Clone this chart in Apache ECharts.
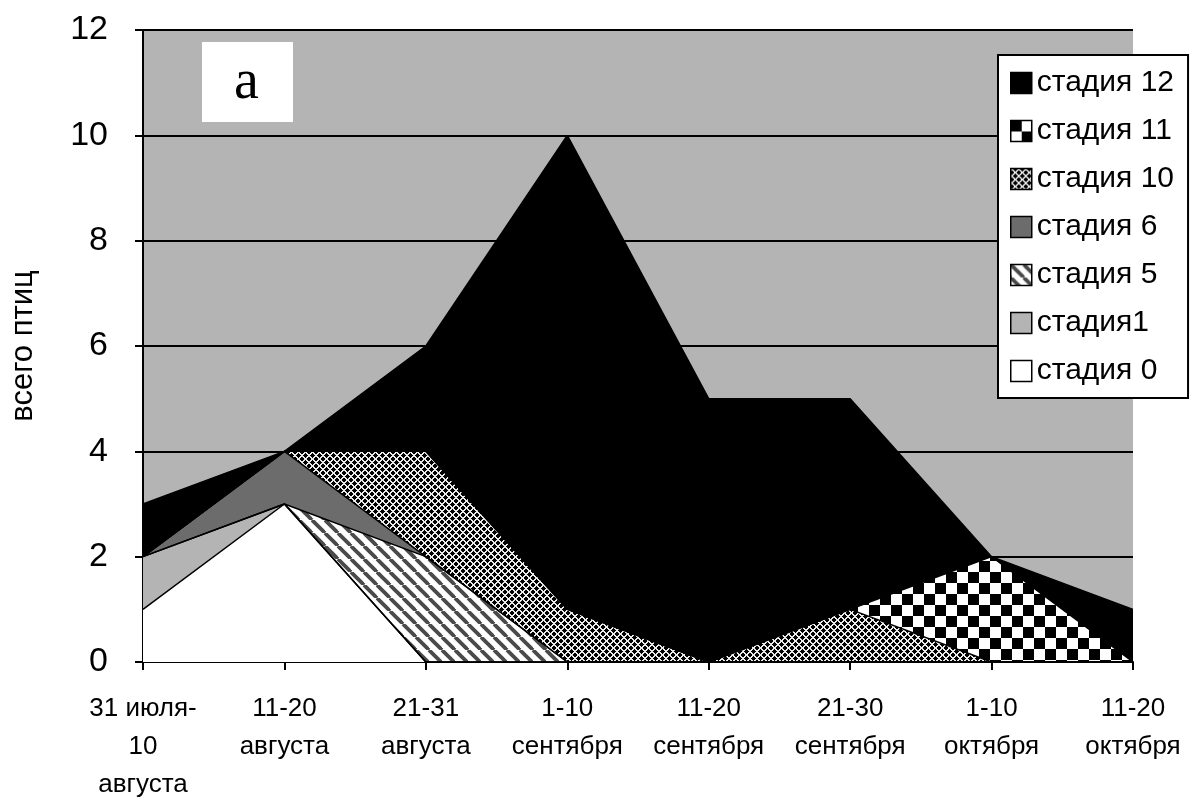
<!DOCTYPE html>
<html><head><meta charset="utf-8">
<script src="https://cdn.jsdelivr.net/npm/echarts@6/dist/echarts.min.js"></script>
<style>html,body{margin:0;padding:0;background:#fff}#c{width:1200px;height:800px}</style>
</head><body><div id="c"></div>
<script>
const categories = ['31 июля-\n10\nавгуста', '11-20\nавгуста', '21-31\nавгуста', '1-10\nсентября', '11-20\nсентября', '21-30\nсентября', '1-10\nоктября', '11-20\nоктября'];
const stage0  = [1, 3, 0, 0, 0, 0, 0, 0];
const stage1  = [1, 0, 0, 0, 0, 0, 0, 0];
const stage5  = [0, 0, 2, 0, 0, 0, 0, 0];
const stage6  = [0, 1, 0, 0, 0, 0, 0, 0];
const stage10 = [0, 0, 2, 1, 0, 1, 0, 0];
const stage11 = [0, 0, 0, 0, 0, 0, 2, 0];
const stage12 = [1, 0, 2, 9, 5, 4, 0, 1];
const seriesNames = ['стадия 0', 'стадия1', 'стадия 5', 'стадия 6', 'стадия 10', 'стадия 11', 'стадия 12'];
const legendOrder = ['стадия 12', 'стадия 11', 'стадия 10', 'стадия 6', 'стадия 5', 'стадия1', 'стадия 0'];
const yTicks = [0, 2, 4, 6, 8, 10, 12];

function makeCanvas(w, h, draw) {
  const c = document.createElement('canvas');
  c.width = w; c.height = h;
  draw(c.getContext('2d'), w, h);
  return c;
}
const stripeCanvas = makeCanvas(13, 13, (ctx) => {
  ctx.fillStyle = '#fff'; ctx.fillRect(0, 0, 13, 13);
  ctx.strokeStyle = '#4a4a4a'; ctx.lineWidth = 3.8;
  for (const o of [-13, 0, 13]) { ctx.beginPath(); ctx.moveTo(o, 0); ctx.lineTo(o + 13, 13); ctx.stroke(); }
});
const P = 7;
const crossCanvas = makeCanvas(P, P, (ctx) => {
  const img = ctx.createImageData(P, P);
  for (let y = 0; y < P; y++) for (let x = 0; x < P; x++) {
    const white = ((x + y) % P < 2) || ((((x - y) % P) + P) % P < 2);
    const v = white ? 235 : 0, i = (y * P + x) * 4;
    img.data[i] = v; img.data[i + 1] = v; img.data[i + 2] = v; img.data[i + 3] = 255;
  }
  ctx.putImageData(img, 0, 0);
});
const checkCanvas = makeCanvas(22, 22, (ctx) => {
  ctx.fillStyle = '#fff'; ctx.fillRect(0, 0, 22, 22);
  ctx.fillStyle = '#000'; ctx.fillRect(0, 0, 11, 11); ctx.fillRect(11, 11, 11, 11);
});

const fills = {
  'стадия 0': '#ffffff',
  'стадия1': '#b4b4b4',
  'стадия 5': { image: stripeCanvas, repeat: 'repeat' },
  'стадия 6': '#6c6c6c',
  'стадия 10': { image: crossCanvas, repeat: 'repeat' },
  'стадия 11': { image: checkCanvas, repeat: 'repeat' },
  'стадия 12': '#000000'
};
const dataByName = {
  'стадия 0': stage0, 'стадия1': stage1, 'стадия 5': stage5, 'стадия 6': stage6,
  'стадия 10': stage10, 'стадия 11': stage11, 'стадия 12': stage12
};

const chart = echarts.init(document.getElementById('c'), null, { renderer: 'canvas' });
chart.setOption({
  animation: false,
  backgroundColor: '#fff',
  grid: { left: 143, right: 67, top: 30, bottom: 138, show: true, backgroundColor: '#b4b4b4', borderWidth: 0, outerBoundsMode: 'none', containLabel: false },
  xAxis: {
    type: 'category', data: categories, boundaryGap: false,
    axisLine: { lineStyle: { color: '#000', width: 2 } },
    axisTick: { show: true, length: 8, lineStyle: { color: '#000', width: 2 } },
    axisLabel: { color: '#000', fontFamily: 'Liberation Sans', fontSize: 26, lineHeight: 38, margin: 28, interval: 0 },
    splitLine: { show: false }
  },
  yAxis: {
    type: 'value', min: yTicks[0], max: yTicks[yTicks.length - 1], interval: 2,
    name: 'всего птиц', nameLocation: 'middle', nameGap: 104, nameRotate: 90,
    nameTextStyle: { color: '#000', fontFamily: 'Liberation Sans', fontSize: 31 },
    axisLine: { show: true, lineStyle: { color: '#000', width: 2 } },
    axisTick: { show: true, length: 8, lineStyle: { color: '#000', width: 2 } },
    axisLabel: { color: '#000', fontFamily: 'Liberation Sans', fontSize: 34, margin: 35 },
    splitLine: { show: true, lineStyle: { color: '#000', width: 2 } }
  },
  legend: {
    orient: 'vertical', left: 998, top: 55,
    data: legendOrder.map(n => ({ name: n, icon: 'rect', itemStyle: { color: fills[n], borderColor: '#000', borderWidth: 1.5 } })),
    itemWidth: 21, itemHeight: 21, itemGap: 18,
    padding: [13, 14, 12, 12],
    backgroundColor: '#fff', borderColor: '#000', borderWidth: 2,
    textStyle: { color: '#000', fontFamily: 'Liberation Sans', fontSize: 30 }
  },
  graphic: [
    { type: 'rect', left: 202, top: 42, shape: { width: 91, height: 80 }, style: { fill: '#fff' }, z: 100 },
    { type: 'text', left: 234, top: 55, style: { text: 'а', fill: '#000', font: '56px "Liberation Serif"' }, z: 101 }
  ],
  series: seriesNames.map(n => ({
    name: n, type: 'line', stack: 'total', data: dataByName[n],
    symbol: 'none', color: fills[n],
    lineStyle: { color: '#000', width: 1.5 },
    areaStyle: { color: fills[n], opacity: 1 },
    emphasis: { disabled: true }
  }))
});
</script></body></html>
